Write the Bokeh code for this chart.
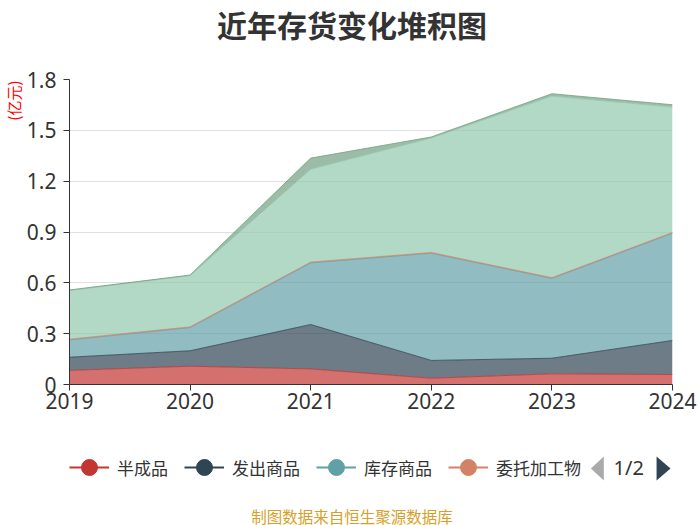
from bokeh.plotting import figure
from bokeh.layouts import column
from bokeh.models import (ColumnDataSource, Range1d, FixedTicker, Legend, LegendItem,
                          Title, Label, PolyAnnotation)
from bokeh.embed import file_html
from bokeh.resources import INLINE

# ---------------- data ----------------
years = [2019, 2020, 2021, 2022, 2023, 2024]
x_tick_labels = ["2019", "2020", "2021", "2022", "2023", "2024"]

series_names = ["半成品", "发出商品", "库存商品", "委托加工物", "原材料", "周转材料"]
banchengpin = [0.083, 0.108, 0.092, 0.037, 0.063, 0.059]
fachu_shangpin = [0.078, 0.091, 0.262, 0.105, 0.092, 0.201]
kucun_shangpin = [0.102, 0.137, 0.364, 0.633, 0.471, 0.633]
weituo_jiagong = [0.004, 0.004, 0.004, 0.004, 0.004, 0.004]
yuancailiao = [0.288, 0.303, 0.549, 0.676, 1.072, 0.740]
zhouzhuan_cailiao = [0.003, 0.003, 0.065, 0.006, 0.014, 0.014]

y_ticks = [0, 0.3, 0.6, 0.9, 1.2, 1.5, 1.8]
y_tick_labels = ["0", "0.3", "0.6", "0.9", "1.2", "1.5", "1.8"]

title_text = "近年存货变化堆积图"
unit_text = "(亿元)"
pager_text = "1/2"
footer_text = "制图数据来自恒生聚源数据库"

colors = ["#c23531", "#2f4554", "#61a0a8", "#d48265", "#91c7ae", "#749f83"]
legend_count = 4
NAN = float("nan")

keys = ["s0", "s1", "s2", "s3", "s4", "s5"]
source = ColumnDataSource(data=dict(
    x=years,
    s0=banchengpin, s1=fachu_shangpin, s2=kucun_shangpin,
    s3=weituo_jiagong, s4=yuancailiao, s5=zhouzhuan_cailiao,
))

CJK = "Noto Sans CJK SC"
NUM = "Noto Sans"
W = 700
FRAME_L, FRAME_R = 66, 672   # page pixels of the (column-aligned) plot frames


def blank_fig(h, top, bottom):
    # its frame is aligned with the main chart's frame by the column layout,
    # so the x range is expressed in page pixels of that frame
    f = figure(width=W, height=h, output_backend="svg", toolbar_location=None,
               x_range=Range1d(FRAME_L, FRAME_R), y_range=Range1d(bottom, top),
               x_axis_location=None, y_axis_location=None, min_border=0)
    f.outline_line_color = None
    f.grid.visible = False
    return f


# ---------------- title strip (page y 0..50) ----------------
top = blank_fig(50, 0, 50)
top.add_layout(Label(x=350, y=23, text=title_text, text_align="center",
                     text_baseline="middle", text_font=CJK, text_font_size="30px",
                     text_font_style="bold", text_color="#333333"))

# ---------------- main chart (page y 50..440) ----------------
p = figure(width=W, height=390, output_backend="svg", toolbar_location=None,
           x_range=Range1d(2019, 2024), y_range=Range1d(0, 1.8),
           min_border_left=FRAME_L, min_border_right=W - FRAME_R, min_border_top=29,
           min_border_bottom=56)
p.outline_line_color = None

p.varea_stack(keys, x="x", source=source, fill_color=colors, fill_alpha=0.7)
p.vline_stack(keys, x="x", source=source, line_color=colors, line_width=1, line_alpha=0.8)

p.xgrid.visible = False
p.ygrid.ticker = FixedTicker(ticks=y_ticks)
p.ygrid.grid_line_color = "#e0e0e0"
p.xaxis.ticker = FixedTicker(ticks=years)
p.yaxis.ticker = FixedTicker(ticks=y_ticks)
p.xaxis.major_label_overrides = {yy: t for yy, t in zip(years, x_tick_labels)}
p.yaxis.major_label_overrides = {yy: t for yy, t in zip(y_ticks, y_tick_labels)}
for ax in (p.xaxis[0], p.yaxis[0]):
    ax.axis_line_color = "#333333"
    ax.major_tick_line_color = "#333333"
    ax.major_tick_out = 6
    ax.major_tick_in = 0
    ax.minor_tick_out = 0
    ax.minor_tick_in = 0
    ax.major_label_text_font = NUM
    ax.major_label_text_font_size = "21px"
    ax.major_label_text_color = "#333333"
p.xaxis.major_label_standoff = 2
p.yaxis.major_label_standoff = 7

# unit label on the left, at the top end of the axis
p.add_layout(Title(text=unit_text, align="right", offset=1, standoff=0, text_font=CJK,
                   text_font_size="15px", text_font_style="normal",
                   text_color="#ff0000"), "left")

# ---------------- legend strip (page y 440..525) ----------------
bot = blank_fig(85, 440, 525)
items = []
for i in range(legend_count):
    lr = bot.line(x=[NAN], y=[NAN], line_color=colors[i], line_width=2)
    sr = bot.scatter(x=[NAN], y=[NAN], marker="circle", fill_color=colors[i],
                     line_color=colors[i])
    items.append(LegendItem(label=series_names[i], renderers=[lr, sr]))
legend = Legend(items=items, orientation="horizontal", location=(0, 35),
                glyph_width=40, glyph_height=46, label_standoff=8, spacing=16,
                padding=0, margin=0, border_line_color=None, background_fill_alpha=0,
                label_text_font=CJK, label_text_font_size="17px",
                label_text_color="#333333")
bot.add_layout(legend)

# pager: grey previous arrow, page text, dark next arrow
bot.add_layout(PolyAnnotation(xs=[590, 603, 603], ys=[468, 456, 480],
                              fill_color="#aaaaaa", fill_alpha=1, line_color=None))
bot.add_layout(Label(x=628, y=467, text=pager_text, text_align="center",
                     text_baseline="middle", text_font=NUM, text_font_size="20px",
                     text_color="#333333"))
bot.add_layout(PolyAnnotation(xs=[670, 656, 656], ys=[468, 456, 480],
                              fill_color="#2f4554", fill_alpha=1, line_color=None))

# footer
bot.add_layout(Label(x=350, y=515, text=footer_text, text_align="center",
                     text_baseline="middle", text_font=CJK, text_font_size="15.5px",
                     text_color="#d6a02c"))

layout = column(top, p, bot, spacing=0)
open("out.html", "w").write(file_html(layout, INLINE))
